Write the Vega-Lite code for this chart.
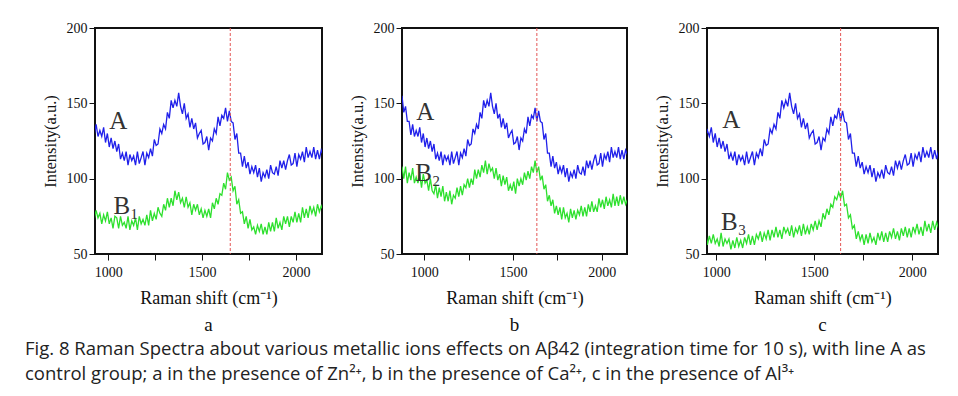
{
"$schema": "https://vega.github.io/schema/vega-lite/v6.json",
"background": "white",
"padding": {"left": 25, "top": 20, "right": 5, "bottom": 5},
"datasets": {
"A": [{"x":875,"y":155},{"x":885,"y":144},{"x":895,"y":148},{"x":905,"y":138},{"x":915,"y":138},{"x":925,"y":129},{"x":935,"y":136},{"x":945,"y":128},{"x":955,"y":132},{"x":965,"y":128},{"x":975,"y":134},{"x":985,"y":124},{"x":995,"y":130},{"x":1005,"y":121},{"x":1015,"y":127},{"x":1025,"y":120},{"x":1035,"y":125},{"x":1045,"y":118},{"x":1055,"y":123},{"x":1065,"y":113},{"x":1075,"y":117},{"x":1085,"y":112},{"x":1095,"y":118},{"x":1105,"y":109},{"x":1115,"y":116},{"x":1125,"y":112},{"x":1135,"y":115},{"x":1145,"y":109},{"x":1155,"y":118},{"x":1165,"y":110},{"x":1175,"y":114},{"x":1185,"y":118},{"x":1195,"y":109},{"x":1205,"y":117},{"x":1215,"y":114},{"x":1225,"y":120},{"x":1235,"y":115},{"x":1245,"y":126},{"x":1255,"y":122},{"x":1265,"y":123},{"x":1275,"y":133},{"x":1285,"y":130},{"x":1295,"y":136},{"x":1305,"y":133},{"x":1315,"y":144},{"x":1325,"y":140},{"x":1335,"y":152},{"x":1345,"y":147},{"x":1355,"y":152},{"x":1365,"y":148},{"x":1375,"y":157},{"x":1385,"y":148},{"x":1395,"y":143},{"x":1405,"y":150},{"x":1415,"y":140},{"x":1425,"y":143},{"x":1435,"y":134},{"x":1445,"y":140},{"x":1455,"y":133},{"x":1465,"y":137},{"x":1475,"y":127},{"x":1485,"y":130},{"x":1495,"y":132},{"x":1505,"y":123},{"x":1515,"y":124},{"x":1525,"y":128},{"x":1535,"y":119},{"x":1545,"y":127},{"x":1555,"y":125},{"x":1565,"y":133},{"x":1575,"y":130},{"x":1585,"y":141},{"x":1595,"y":135},{"x":1605,"y":142},{"x":1615,"y":140},{"x":1625,"y":147},{"x":1635,"y":138},{"x":1645,"y":145},{"x":1655,"y":138},{"x":1665,"y":137},{"x":1675,"y":126},{"x":1685,"y":130},{"x":1695,"y":117},{"x":1705,"y":117},{"x":1715,"y":108},{"x":1725,"y":115},{"x":1735,"y":107},{"x":1745,"y":111},{"x":1755,"y":103},{"x":1765,"y":108},{"x":1775,"y":104},{"x":1785,"y":109},{"x":1795,"y":101},{"x":1805,"y":107},{"x":1815,"y":98},{"x":1825,"y":104},{"x":1835,"y":101},{"x":1845,"y":106},{"x":1855,"y":100},{"x":1865,"y":109},{"x":1875,"y":104},{"x":1885,"y":103},{"x":1895,"y":108},{"x":1905,"y":102},{"x":1915,"y":112},{"x":1925,"y":107},{"x":1935,"y":112},{"x":1945,"y":106},{"x":1955,"y":112},{"x":1965,"y":116},{"x":1975,"y":109},{"x":1985,"y":110},{"x":1995,"y":117},{"x":2005,"y":108},{"x":2015,"y":116},{"x":2025,"y":113},{"x":2035,"y":118},{"x":2045,"y":111},{"x":2055,"y":121},{"x":2065,"y":114},{"x":2075,"y":118},{"x":2085,"y":114},{"x":2095,"y":121},{"x":2105,"y":113},{"x":2115,"y":119},{"x":2125,"y":113},{"x":2135,"y":119},{"x":2145,"y":116}],
"B1": [{"x":925,"y":73},{"x":935,"y":79},{"x":945,"y":74},{"x":955,"y":77},{"x":965,"y":70},{"x":975,"y":76},{"x":985,"y":72},{"x":995,"y":78},{"x":1005,"y":70},{"x":1015,"y":74},{"x":1025,"y":67},{"x":1035,"y":75},{"x":1045,"y":74},{"x":1055,"y":67},{"x":1065,"y":75},{"x":1075,"y":69},{"x":1085,"y":71},{"x":1095,"y":67},{"x":1105,"y":75},{"x":1115,"y":66},{"x":1125,"y":72},{"x":1135,"y":69},{"x":1145,"y":74},{"x":1155,"y":66},{"x":1165,"y":75},{"x":1175,"y":70},{"x":1185,"y":73},{"x":1195,"y":69},{"x":1205,"y":76},{"x":1215,"y":69},{"x":1225,"y":79},{"x":1235,"y":72},{"x":1245,"y":77},{"x":1255,"y":73},{"x":1265,"y":81},{"x":1275,"y":77},{"x":1285,"y":75},{"x":1295,"y":83},{"x":1305,"y":79},{"x":1315,"y":87},{"x":1325,"y":81},{"x":1335,"y":87},{"x":1345,"y":82},{"x":1355,"y":92},{"x":1365,"y":86},{"x":1375,"y":91},{"x":1385,"y":84},{"x":1395,"y":87},{"x":1405,"y":81},{"x":1415,"y":88},{"x":1425,"y":81},{"x":1435,"y":84},{"x":1445,"y":76},{"x":1455,"y":83},{"x":1465,"y":79},{"x":1475,"y":83},{"x":1485,"y":76},{"x":1495,"y":80},{"x":1505,"y":74},{"x":1515,"y":79},{"x":1525,"y":75},{"x":1535,"y":80},{"x":1545,"y":74},{"x":1555,"y":84},{"x":1565,"y":80},{"x":1575,"y":87},{"x":1585,"y":83},{"x":1595,"y":90},{"x":1605,"y":89},{"x":1615,"y":97},{"x":1625,"y":93},{"x":1635,"y":104},{"x":1645,"y":99},{"x":1655,"y":101},{"x":1665,"y":92},{"x":1675,"y":95},{"x":1685,"y":83},{"x":1695,"y":86},{"x":1705,"y":77},{"x":1715,"y":78},{"x":1725,"y":70},{"x":1735,"y":75},{"x":1745,"y":67},{"x":1755,"y":73},{"x":1765,"y":66},{"x":1775,"y":68},{"x":1785,"y":63},{"x":1795,"y":69},{"x":1805,"y":65},{"x":1815,"y":70},{"x":1825,"y":63},{"x":1835,"y":68},{"x":1845,"y":63},{"x":1855,"y":71},{"x":1865,"y":65},{"x":1875,"y":71},{"x":1885,"y":65},{"x":1895,"y":74},{"x":1905,"y":67},{"x":1915,"y":71},{"x":1925,"y":66},{"x":1935,"y":75},{"x":1945,"y":70},{"x":1955,"y":75},{"x":1965,"y":68},{"x":1975,"y":75},{"x":1985,"y":71},{"x":1995,"y":78},{"x":2005,"y":71},{"x":2015,"y":77},{"x":2025,"y":71},{"x":2035,"y":81},{"x":2045,"y":74},{"x":2055,"y":80},{"x":2065,"y":74},{"x":2075,"y":82},{"x":2085,"y":77},{"x":2095,"y":81},{"x":2105,"y":75},{"x":2115,"y":83},{"x":2125,"y":78},{"x":2135,"y":82},{"x":2145,"y":79}],
"B2": [{"x":875,"y":108},{"x":885,"y":100},{"x":895,"y":108},{"x":905,"y":97},{"x":915,"y":104},{"x":925,"y":99},{"x":935,"y":107},{"x":945,"y":97},{"x":955,"y":101},{"x":965,"y":97},{"x":975,"y":103},{"x":985,"y":94},{"x":995,"y":103},{"x":1005,"y":97},{"x":1015,"y":99},{"x":1025,"y":92},{"x":1035,"y":100},{"x":1045,"y":92},{"x":1055,"y":90},{"x":1065,"y":96},{"x":1075,"y":87},{"x":1085,"y":94},{"x":1095,"y":88},{"x":1105,"y":95},{"x":1115,"y":85},{"x":1125,"y":91},{"x":1135,"y":85},{"x":1145,"y":92},{"x":1155,"y":83},{"x":1165,"y":89},{"x":1175,"y":87},{"x":1185,"y":94},{"x":1195,"y":88},{"x":1205,"y":95},{"x":1215,"y":89},{"x":1225,"y":96},{"x":1235,"y":94},{"x":1245,"y":100},{"x":1255,"y":94},{"x":1265,"y":100},{"x":1275,"y":96},{"x":1285,"y":106},{"x":1295,"y":100},{"x":1305,"y":106},{"x":1315,"y":101},{"x":1325,"y":109},{"x":1335,"y":104},{"x":1345,"y":112},{"x":1355,"y":103},{"x":1365,"y":110},{"x":1375,"y":105},{"x":1385,"y":107},{"x":1395,"y":100},{"x":1405,"y":107},{"x":1415,"y":99},{"x":1425,"y":103},{"x":1435,"y":95},{"x":1445,"y":102},{"x":1455,"y":96},{"x":1465,"y":101},{"x":1475,"y":92},{"x":1485,"y":96},{"x":1495,"y":92},{"x":1505,"y":98},{"x":1515,"y":90},{"x":1525,"y":100},{"x":1535,"y":95},{"x":1545,"y":100},{"x":1555,"y":96},{"x":1565,"y":104},{"x":1575,"y":99},{"x":1585,"y":105},{"x":1595,"y":100},{"x":1605,"y":108},{"x":1615,"y":104},{"x":1625,"y":112},{"x":1635,"y":104},{"x":1645,"y":108},{"x":1655,"y":99},{"x":1665,"y":102},{"x":1675,"y":93},{"x":1685,"y":96},{"x":1695,"y":85},{"x":1705,"y":89},{"x":1715,"y":82},{"x":1725,"y":86},{"x":1735,"y":77},{"x":1745,"y":82},{"x":1755,"y":76},{"x":1765,"y":81},{"x":1775,"y":73},{"x":1785,"y":81},{"x":1795,"y":74},{"x":1805,"y":77},{"x":1815,"y":71},{"x":1825,"y":80},{"x":1835,"y":74},{"x":1845,"y":79},{"x":1855,"y":73},{"x":1865,"y":79},{"x":1875,"y":76},{"x":1885,"y":82},{"x":1895,"y":75},{"x":1905,"y":81},{"x":1915,"y":75},{"x":1925,"y":83},{"x":1935,"y":78},{"x":1945,"y":85},{"x":1955,"y":78},{"x":1965,"y":82},{"x":1975,"y":78},{"x":1985,"y":87},{"x":1995,"y":81},{"x":2005,"y":86},{"x":2015,"y":80},{"x":2025,"y":88},{"x":2035,"y":82},{"x":2045,"y":86},{"x":2055,"y":81},{"x":2065,"y":90},{"x":2075,"y":82},{"x":2085,"y":88},{"x":2095,"y":82},{"x":2105,"y":89},{"x":2115,"y":83},{"x":2125,"y":88},{"x":2135,"y":83},{"x":2145,"y":86}],
"B3": [{"x":945,"y":67},{"x":955,"y":56},{"x":965,"y":62},{"x":975,"y":57},{"x":985,"y":63},{"x":995,"y":57},{"x":1005,"y":60},{"x":1015,"y":55},{"x":1025,"y":64},{"x":1035,"y":55},{"x":1045,"y":60},{"x":1055,"y":57},{"x":1065,"y":60},{"x":1075,"y":53},{"x":1085,"y":59},{"x":1095,"y":54},{"x":1105,"y":61},{"x":1115,"y":55},{"x":1125,"y":59},{"x":1135,"y":54},{"x":1145,"y":61},{"x":1155,"y":57},{"x":1165,"y":63},{"x":1175,"y":56},{"x":1185,"y":62},{"x":1195,"y":56},{"x":1205,"y":63},{"x":1215,"y":60},{"x":1225,"y":65},{"x":1235,"y":58},{"x":1245,"y":64},{"x":1255,"y":60},{"x":1265,"y":66},{"x":1275,"y":59},{"x":1285,"y":66},{"x":1295,"y":61},{"x":1305,"y":68},{"x":1315,"y":61},{"x":1325,"y":66},{"x":1335,"y":60},{"x":1345,"y":68},{"x":1355,"y":64},{"x":1365,"y":67},{"x":1375,"y":62},{"x":1385,"y":69},{"x":1395,"y":61},{"x":1405,"y":67},{"x":1415,"y":64},{"x":1425,"y":69},{"x":1435,"y":62},{"x":1445,"y":70},{"x":1455,"y":63},{"x":1465,"y":68},{"x":1475,"y":63},{"x":1485,"y":70},{"x":1495,"y":66},{"x":1505,"y":72},{"x":1515,"y":66},{"x":1525,"y":72},{"x":1535,"y":68},{"x":1545,"y":77},{"x":1555,"y":73},{"x":1565,"y":80},{"x":1575,"y":76},{"x":1585,"y":83},{"x":1595,"y":81},{"x":1605,"y":88},{"x":1615,"y":86},{"x":1625,"y":91},{"x":1635,"y":87},{"x":1645,"y":92},{"x":1655,"y":82},{"x":1665,"y":83},{"x":1675,"y":74},{"x":1685,"y":76},{"x":1695,"y":67},{"x":1705,"y":69},{"x":1715,"y":60},{"x":1725,"y":65},{"x":1735,"y":59},{"x":1745,"y":63},{"x":1755,"y":56},{"x":1765,"y":63},{"x":1775,"y":57},{"x":1785,"y":64},{"x":1795,"y":58},{"x":1805,"y":61},{"x":1815,"y":56},{"x":1825,"y":64},{"x":1835,"y":59},{"x":1845,"y":65},{"x":1855,"y":58},{"x":1865,"y":64},{"x":1875,"y":58},{"x":1885,"y":65},{"x":1895,"y":61},{"x":1905,"y":67},{"x":1915,"y":60},{"x":1925,"y":65},{"x":1935,"y":59},{"x":1945,"y":67},{"x":1955,"y":62},{"x":1965,"y":68},{"x":1975,"y":61},{"x":1985,"y":67},{"x":1995,"y":61},{"x":2005,"y":68},{"x":2015,"y":64},{"x":2025,"y":70},{"x":2035,"y":63},{"x":2045,"y":68},{"x":2055,"y":62},{"x":2065,"y":72},{"x":2075,"y":65},{"x":2085,"y":70},{"x":2095,"y":64},{"x":2105,"y":72},{"x":2115,"y":66},{"x":2125,"y":71},{"x":2135,"y":67},{"x":2145,"y":70}]
},
"title": {
"text": ["Fig. 8  Raman Spectra about various metallic ions effects on Aβ42 (integration time for 10 s), with line A as", "control group; a in the presence of Zn²⁺, b in the presence of Ca²⁺, c in the presence of Al³⁺"],
"orient": "bottom", "anchor": "start", "frame": "bounds", "dx": -16, "offset": 4,
"font": "Open Sans", "fontSize": 18.5, "fontWeight": "normal", "lineHeight": 25, "color": "#222"
},
"spacing": 25,
"hconcat": [
{
"width": 227, "height": 226,
"title": {"text": "a", "orient": "bottom", "font": "Liberation Serif", "fontSize": 19, "fontWeight": "normal", "offset": 9, "color": "#111"},
"layer": [
{"data": {"name": "A"}, "mark": {"type": "line", "color": "#2020ea", "strokeWidth": 1.3, "clip": true},
 "encoding": {
  "x": {"field": "x", "type": "quantitative", "scale": {"domain": [929, 2139], "nice": false, "zero": false}, "axis": {"values": [1000,1250,1500,1750,2000], "labelExpr": "datum.value % 500 == 0 ? datum.label : ''", "format": "d", "title": "Raman shift (cm⁻¹)"}},
  "y": {"field": "y", "type": "quantitative", "scale": {"domain": [50, 200], "nice": false, "zero": false}, "axis": {"values": [50,75,100,125,150,175,200], "labelExpr": "datum.value % 50 == 0 ? datum.label : ''", "title": "Intensity(a.u.)"}}
 }},
{"data": {"name": "B1"}, "mark": {"type": "line", "color": "#2ee02e", "strokeWidth": 1.3, "clip": true},
 "encoding": {"x": {"field": "x", "type": "quantitative"}, "y": {"field": "y", "type": "quantitative"}}},
{"data": {"values": [{"x": 1650}]}, "mark": {"type": "rule", "color": "#e45656", "strokeWidth": 1, "strokeDash": [3, 2]},
 "encoding": {"x": {"field": "x", "type": "quantitative"}}},
{"data": {"values": [{"x": 1005, "y": 138, "t": "A"}, {"x": 1027, "y": 82, "t": "B₁"}]},
 "mark": {"type": "text", "font": "Liberation Serif", "fontSize": 25, "align": "left", "baseline": "middle", "color": "#333"},
 "encoding": {"x": {"field": "x", "type": "quantitative"}, "y": {"field": "y", "type": "quantitative"}, "text": {"field": "t"}}}
]
},
{
"width": 225, "height": 226,
"title": {"text": "b", "orient": "bottom", "font": "Liberation Serif", "fontSize": 19, "fontWeight": "normal", "offset": 9, "color": "#111"},
"layer": [
{"data": {"name": "A"}, "mark": {"type": "line", "color": "#2020ea", "strokeWidth": 1.3, "clip": true},
 "encoding": {
  "x": {"field": "x", "type": "quantitative", "scale": {"domain": [875, 2143], "nice": false, "zero": false}, "axis": {"values": [1000,1250,1500,1750,2000], "labelExpr": "datum.value % 500 == 0 ? datum.label : ''", "format": "d", "title": "Raman shift (cm⁻¹)"}},
  "y": {"field": "y", "type": "quantitative", "scale": {"domain": [50, 200], "nice": false, "zero": false}, "axis": {"values": [50,75,100,125,150,175,200], "labelExpr": "datum.value % 50 == 0 ? datum.label : ''", "title": "Intensity(a.u.)"}}
 }},
{"data": {"name": "B2"}, "mark": {"type": "line", "color": "#2ee02e", "strokeWidth": 1.3, "clip": true},
 "encoding": {"x": {"field": "x", "type": "quantitative"}, "y": {"field": "y", "type": "quantitative"}}},
{"data": {"values": [{"x": 1635}]}, "mark": {"type": "rule", "color": "#e45656", "strokeWidth": 1, "strokeDash": [3, 2]},
 "encoding": {"x": {"field": "x", "type": "quantitative"}}},
{"data": {"values": [{"x": 955, "y": 144, "t": "A"}, {"x": 949, "y": 104, "t": "B₂"}]},
 "mark": {"type": "text", "font": "Liberation Serif", "fontSize": 25, "align": "left", "baseline": "middle", "color": "#333"},
 "encoding": {"x": {"field": "x", "type": "quantitative"}, "y": {"field": "y", "type": "quantitative"}, "text": {"field": "t"}}}
]
},
{
"width": 231, "height": 226,
"title": {"text": "c", "orient": "bottom", "font": "Liberation Serif", "fontSize": 19, "fontWeight": "normal", "offset": 9, "color": "#111"},
"layer": [
{"data": {"name": "A"}, "mark": {"type": "line", "color": "#2020ea", "strokeWidth": 1.3, "clip": true},
 "encoding": {
  "x": {"field": "x", "type": "quantitative", "scale": {"domain": [953, 2132], "nice": false, "zero": false}, "axis": {"values": [1000,1250,1500,1750,2000], "labelExpr": "datum.value % 500 == 0 ? datum.label : ''", "format": "d", "title": "Raman shift (cm⁻¹)"}},
  "y": {"field": "y", "type": "quantitative", "scale": {"domain": [50, 200], "nice": false, "zero": false}, "axis": {"values": [50,75,100,125,150,175,200], "labelExpr": "datum.value % 50 == 0 ? datum.label : ''", "title": "Intensity(a.u.)"}}
 }},
{"data": {"name": "B3"}, "mark": {"type": "line", "color": "#2ee02e", "strokeWidth": 1.3, "clip": true},
 "encoding": {"x": {"field": "x", "type": "quantitative"}, "y": {"field": "y", "type": "quantitative"}}},
{"data": {"values": [{"x": 1635}]}, "mark": {"type": "rule", "color": "#e45656", "strokeWidth": 1, "strokeDash": [3, 2]},
 "encoding": {"x": {"field": "x", "type": "quantitative"}}},
{"data": {"values": [{"x": 1031, "y": 139, "t": "A"}, {"x": 1025, "y": 71, "t": "B₃"}]},
 "mark": {"type": "text", "font": "Liberation Serif", "fontSize": 25, "align": "left", "baseline": "middle", "color": "#333"},
 "encoding": {"x": {"field": "x", "type": "quantitative"}, "y": {"field": "y", "type": "quantitative"}, "text": {"field": "t"}}}
]
}
],
"config": {
"view": {"stroke": "#111", "strokeWidth": 2},
"axis": {"domain": false, "grid": false, "tickColor": "#111", "tickSize": 6, "labelFont": "Liberation Serif", "labelFontSize": 14, "labelColor": "#111", "titleFont": "Liberation Serif", "titleFontWeight": "normal", "titleColor": "#111"},
"axisX": {"labelPadding": 5, "titleFontSize": 18, "titlePadding": 10},
"axisY": {"labelPadding": 2, "titleFontSize": 16.5, "titlePadding": 8}
}
}
